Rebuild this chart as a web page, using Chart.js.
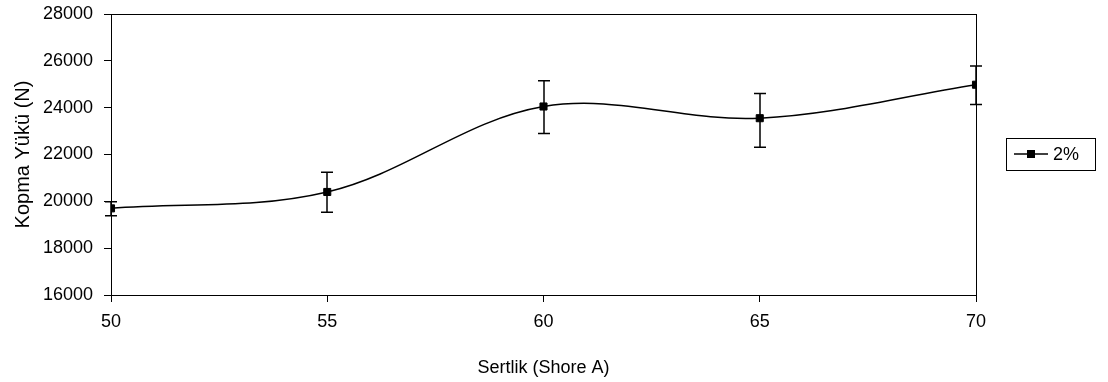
<!DOCTYPE html>
<html>
<head>
  <title>Kopma Yükü - Sertlik</title>
  <script src="https://cdn.jsdelivr.net/npm/chart.js@4.4.0/dist/chart.umd.min.js"></script>
  <style>
    body { margin: 0; background: #fff; }
    #chartContainer { width: 1108px; height: 382px; }
  </style>
</head>
<body>
  <div id="chartContainer">
    <canvas id="lineChart"></canvas>
  </div>

  <script>
    // Sertlik (Shore A) vs. kopma yükü, 2% serisi
    var hardness = [50, 55, 60, 65, 70];
    var load = [19700, 20400, 24050, 23550, 24980];
    var loadLow = [19380, 19530, 22900, 22310, 24130];
    var loadHigh = [19980, 21240, 25150, 24610, 25780];
    var seriesName = "2%";
    var xTitle = "Sertlik (Shore A)";
    var yTitle = "Kopma Yükü (N)";

    var FONT = "Liberation Sans, Arial, sans-serif";
    var FONT_SIZE = 18;

    var points = hardness.map(function(h, i) {
      return { x: h, y: load[i] };
    });

    // vertical error bars with caps, drawn from the scales
    var errorBars = {
      id: "errorBars",
      afterDatasetsDraw: function(chart) {
        var ctx = chart.ctx;
        var xs = chart.scales.x, ys = chart.scales.y;
        ctx.save();
        ctx.strokeStyle = "#000";
        ctx.lineWidth = 1.5;
        for (var i = 0; i < hardness.length; i++) {
          var x = Math.round(xs.getPixelForValue(hardness[i]));
          var yLo = ys.getPixelForValue(loadLow[i]);
          var yHi = ys.getPixelForValue(loadHigh[i]);
          ctx.beginPath();
          ctx.moveTo(x, yLo);
          ctx.lineTo(x, yHi);
          ctx.moveTo(x - 6, yLo);
          ctx.lineTo(x + 6, yLo);
          ctx.moveTo(x - 6, yHi);
          ctx.lineTo(x + 6, yHi);
          ctx.stroke();
        }
        ctx.restore();
      }
    };

    // plot frame and the boxed legend on the right
    var frameAndLegend = {
      id: "frameAndLegend",
      afterDraw: function(chart) {
        var ctx = chart.ctx;
        var a = chart.chartArea;
        ctx.save();
        ctx.strokeStyle = "#000";
        ctx.lineWidth = 1;
        ctx.strokeRect(Math.round(a.left) + 0.5, Math.round(a.top) + 0.5,
          Math.round(a.right - a.left), Math.round(a.bottom - a.top));

        var bx = 1006, by = 138, bw = 89, bh = 32;
        var cy = by + bh / 2;
        ctx.strokeRect(bx + 0.5, by + 0.5, bw, bh);
        ctx.lineWidth = 1.5;
        ctx.beginPath();
        ctx.moveTo(bx + 8, cy);
        ctx.lineTo(bx + 42, cy);
        ctx.stroke();
        ctx.fillStyle = "#000";
        ctx.fillRect(bx + 21, cy - 4, 8, 8);
        ctx.font = FONT_SIZE + "px " + FONT;
        ctx.textAlign = "left";
        ctx.textBaseline = "middle";
        ctx.fillText(seriesName, bx + 47, cy + 1);
        ctx.restore();
      }
    };

    var ctx = document.getElementById("lineChart").getContext("2d");
    new Chart(ctx, {
      type: "line",
      data: {
        datasets: [
          {
            label: seriesName,
            data: points,
            borderColor: "#000",
            backgroundColor: "#000",
            borderWidth: 1.5,
            tension: 0.35,
            pointStyle: "rect",
            pointRadius: 5,
            pointBorderWidth: 1,
            pointBackgroundColor: "#000",
            pointBorderColor: "#000",
            fill: false
          }
        ]
      },
      options: {
        responsive: true,
        maintainAspectRatio: false,
        animation: false,
        layout: {
          padding: { top: 14, right: 132, left: 0, bottom: 0 }
        },
        plugins: {
          legend: { display: false },
          tooltip: { enabled: false }
        },
        scales: {
          x: {
            type: "linear",
            min: 50,
            max: 70,
            afterFit: function(scale) { scale.height = 87; },
            ticks: {
              stepSize: 5,
              padding: 9,
              color: "#000",
              font: { family: FONT, size: FONT_SIZE }
            },
            grid: {
              drawOnChartArea: false,
              drawTicks: true,
              tickLength: 7,
              tickColor: "#000"
            },
            border: { display: true, color: "#000", width: 1 },
            title: {
              display: true,
              text: xTitle,
              color: "#000",
              font: { family: FONT, size: FONT_SIZE },
              padding: { top: 0, bottom: 3 }
            }
          },
          y: {
            min: 16000,
            max: 28000,
            afterFit: function(scale) {
              scale.width = 111;
              scale.paddingTop = 0;
              scale.paddingBottom = 0;
            },
            ticks: {
              stepSize: 2000,
              padding: 11,
              color: "#000",
              font: { family: FONT, size: FONT_SIZE },
              callback: function(value) { return String(value); }
            },
            grid: {
              drawOnChartArea: false,
              drawTicks: true,
              tickLength: 7,
              tickColor: "#000"
            },
            border: { display: true, color: "#000", width: 1 },
            title: {
              display: true,
              text: yTitle,
              color: "#000",
              font: { family: FONT, size: 20 },
              padding: { top: 11, bottom: 0 }
            }
          }
        }
      },
      plugins: [errorBars, frameAndLegend]
    });
  </script>
</body>
</html>
